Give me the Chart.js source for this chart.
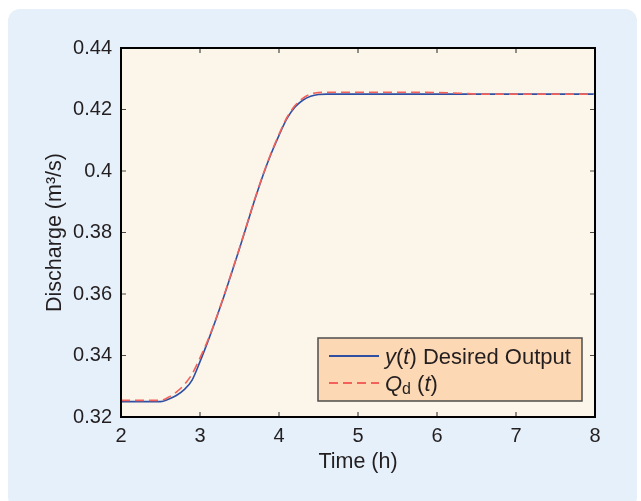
<!DOCTYPE html>
<html>
<head>
<meta charset="utf-8">
<script src="https://cdn.jsdelivr.net/npm/chart.js@4/dist/chart.umd.min.js"></script>
<style>
  body { margin: 0; background: #ffffff; }
  #panel { position: absolute; left: 8px; top: 9px; width: 629px; height: 500px; background: #e6f0fa; border-radius: 12px; }
  #wrap { position: absolute; left: 0; top: 0; width: 641px; height: 501px; }
</style>
</head>
<body>
<div id="panel"></div>
<div id="wrap"><canvas id="myChart" width="641" height="501"></canvas></div>
<script>
// time axis (h) and the two discharge series (m3/s)
const timeH = [2.0, 2.5, 2.6, 2.7, 2.8, 2.9, 3.0, 3.1, 3.2, 3.3, 3.4, 3.5, 3.6, 3.7, 3.8, 3.9,
               4.0, 4.1, 4.2, 4.3, 4.4, 4.5, 4.6, 5.0, 5.5, 6.0, 6.3, 6.5, 7.0, 7.5, 8.0];
const yOut = [0.3250, 0.3250, 0.3258, 0.3270, 0.3289, 0.3320, 0.3380, 0.3446, 0.3516, 0.3590, 0.3668, 0.3748, 0.3830, 0.3912, 0.3988, 0.4056,
              0.4116, 0.4170, 0.4207, 0.4230, 0.4243, 0.4249, 0.4250, 0.4250, 0.4250, 0.4250, 0.4250, 0.4250, 0.4250, 0.4250, 0.4250];
const qDes = [0.3254, 0.3254, 0.3264, 0.3281, 0.3305, 0.3340, 0.3392, 0.3450, 0.3518, 0.3592, 0.3670, 0.3750, 0.3832, 0.3914, 0.3990, 0.4058,
              0.4119, 0.4174, 0.4212, 0.4236, 0.4250, 0.4255, 0.4256, 0.4256, 0.4256, 0.4255, 0.4253, 0.4250, 0.4250, 0.4250, 0.4250];
const xTicks = [2, 3, 4, 5, 6, 7, 8];
const yTicks = [0.32, 0.34, 0.36, 0.38, 0.40, 0.42, 0.44];

const FONT = '"Liberation Sans", Arial, Helvetica, sans-serif';
const TXT = '#231f20';

// frame, inside ticks and the boxed legend, drawn like matlab does
const matlabBox = {
  id: 'matlabBox',
  beforeDatasetsDraw(chart) {
    const {ctx, chartArea: a} = chart;
    ctx.save();
    ctx.fillStyle = '#fbf6e9';
    ctx.fillRect(a.left, a.top, a.right - a.left, a.bottom - a.top);
    ctx.restore();
  },
  afterDatasetsDraw(chart) {
    const {ctx, chartArea: a, scales} = chart;
    ctx.save();
    // ticks
    ctx.strokeStyle = '#4a4a4a';
    ctx.lineWidth = 1.2;
    ctx.beginPath();
    xTicks.forEach(v => {
      const px = scales.x.getPixelForValue(v);
      ctx.moveTo(px, a.bottom); ctx.lineTo(px, a.bottom - 5);
      ctx.moveTo(px, a.top); ctx.lineTo(px, a.top + 5);
    });
    yTicks.forEach(v => {
      const py = scales.y.getPixelForValue(v);
      ctx.moveTo(a.left, py); ctx.lineTo(a.left + 5, py);
      ctx.moveTo(a.right, py); ctx.lineTo(a.right - 5, py);
    });
    ctx.stroke();
    // frame
    ctx.strokeStyle = '#000000';
    ctx.lineWidth = 2;
    ctx.strokeRect(a.left, a.top, a.right - a.left, a.bottom - a.top);

    // legend
    const lx = 318, ly = 338, lw = 264, lh = 63;
    ctx.fillStyle = '#fcd8b4';
    ctx.fillRect(lx, ly, lw, lh);
    ctx.strokeStyle = '#4d4d4d';
    ctx.lineWidth = 1.5;
    ctx.strokeRect(lx, ly, lw, lh);

    const ds = chart.data.datasets;
    const rows = [
      {set: ds[1], y: 356, parts: [['y', 'italic'], ['(', ''], ['t', 'italic'], [') Desired Output', '']]},
      {set: ds[0], y: 383, parts: [['Q', 'italic'], ['d', 'sub'], [' (', ''], ['t', 'italic'], [')', '']]}
    ];
    rows.forEach(r => {
      ctx.strokeStyle = r.set.borderColor;
      ctx.lineWidth = 2;
      ctx.setLineDash(r.set.borderDash || []);
      ctx.beginPath();
      ctx.moveTo(329, r.y); ctx.lineTo(379, r.y);
      ctx.stroke();
      ctx.setLineDash([]);
      let x = 385;
      ctx.fillStyle = TXT;
      ctx.textBaseline = 'alphabetic';
      r.parts.forEach(([t, st]) => {
        let dy = 8;
        if (st === 'italic') ctx.font = 'italic 22px ' + FONT;
        else if (st === 'sub') { ctx.font = '16px ' + FONT; dy = 11; }
        else ctx.font = '22px ' + FONT;
        ctx.fillText(t, x, r.y + dy);
        x += ctx.measureText(t).width;
      });
    });
    ctx.restore();
  }
};

new Chart(document.getElementById('myChart'), {
  type: 'line',
  data: {
    datasets: [
      {
        label: 'Qd (t)',
        data: timeH.map((t, i) => ({x: t, y: qDes[i]})),
        borderColor: '#f2625a',
        borderWidth: 1.6,
        borderDash: [9, 5],
        pointRadius: 0,
        cubicInterpolationMode: 'monotone',
        order: 0
      },
      {
        label: 'y(t) Desired Output',
        data: timeH.map((t, i) => ({x: t, y: yOut[i]})),
        borderColor: '#2f4fa2',
        borderWidth: 1.6,
        pointRadius: 0,
        cubicInterpolationMode: 'monotone',
        order: 1
      }
    ]
  },
  options: {
    responsive: false,
    devicePixelRatio: 1,
    animation: false,
    layout: { padding: { top: 48, right: 46, left: 0, bottom: 0 } },
    plugins: { legend: { display: false }, tooltip: { enabled: false } },
    scales: {
      x: {
        type: 'linear',
        min: 2, max: 8,
        afterFit: s => { s.height = 84; },
        afterBuildTicks: s => { s.ticks = xTicks.map(v => ({value: v})); },
        grid: { display: false, drawTicks: false },
        border: { display: false },
        ticks: { padding: 7, color: TXT, font: { family: FONT, size: 20 }, maxRotation: 0 },
        title: { display: true, text: 'Time (h)', color: TXT, font: { family: FONT, size: 21.5 }, padding: { bottom: 26, top: 0 } }
      },
      y: {
        min: 0.32, max: 0.44,
        afterFit: s => { s.width = 121; },
        afterBuildTicks: s => { s.ticks = yTicks.map(v => ({value: v})); },
        grid: { display: false, drawTicks: false },
        border: { display: false },
        ticks: { padding: 9, color: TXT, font: { family: FONT, size: 20 }, callback: v => String(+v.toFixed(2)) },
        title: { display: true, text: 'Discharge (m³/s)', color: TXT, font: { family: FONT, size: 21.5 }, padding: { top: 42, bottom: 0 } }
      }
    }
  },
  plugins: [matlabBox]
});
</script>
</body>
</html>
